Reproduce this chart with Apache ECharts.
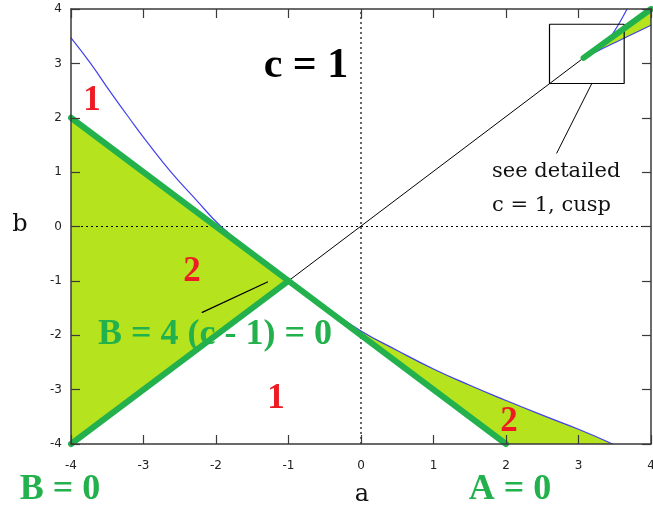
<!DOCTYPE html>
<html>
<head>
<meta charset="utf-8">
<script src="https://cdn.jsdelivr.net/npm/echarts@6/dist/echarts.min.js"></script>
<style>
  html, body { margin: 0; padding: 0; background: #fff; }
  #chart1 { width: 653px; height: 513px; }
</style>
</head>
<body>
<div id="chart1"></div>
<script>
// 刻度
var ticks = [-4, -3, -2, -1, 0, 1, 2, 3, 4];

// 绿色粗线 A = 0 / B = 0
var lineA = [[-4, 2], [-1, -1], [2, -4]];
var lineB = [[-4, -4], [-1, -1]];
// 细黑对角线 + 尖点处的绿线
var diag = [[-1, -1], [3.07, 3.1]];
var cuspGreen = [[3.07, 3.1], [4, 4]];

// 蓝色曲线
var blueCurve = [
    [-4, 3.47], [-3.73, 3], [-3.47, 2.5], [-3.2, 2], [-2.92, 1.5], [-2.62, 1],
    [-2.28, 0.5], [-1.93, 0], [-1.47, -0.5], [-1, -1], [-0.5, -1.47], [0, -1.92],
    [0.5, -2.28], [1, -2.62], [1.5, -2.92], [2, -3.2], [2.5, -3.47], [3, -3.73], [3.47, -4]
];
var cuspUpper = [[3.05, 3.08], [3.3, 3.28], [3.45, 3.5], [3.67, 4]];
var cuspLower = [[3.05, 3.08], [3.3, 3.25], [3.5, 3.38], [4, 3.7]];

// 注释框和引线
var noteBox = [[2.6, 3.72], [3.63, 3.72], [3.63, 2.63], [2.6, 2.63], [2.6, 3.72]];
var noteLine = [[3.18, 2.62], [2.7, 1.35]];
var labelLine = [[-2.19, -1.58], [-1.29, -1.02]];

var green = '#22b14c', lime = '#b5e31d', red = '#ed1c24', blue = '#4040f0';

// 填充区域
var leftFill = [lineA[0], lineA[1], lineB[0]];
var blueRight = blueCurve.slice(9); // 从 (-1,-1) 开始
var lowFill = [lineA[1], lineA[2]].concat(blueRight.slice().reverse());
var cuspFill = cuspGreen.concat([[4, cuspLower[cuspLower.length - 1][1]]]).concat(cuspLower.slice(1).reverse());

function polySeries(points) {
    return {
        type: 'custom',
        silent: true,
        z: 1,
        data: [0],
        renderItem: function (params, api) {
            return {
                type: 'polygon',
                shape: { points: points.map(function (p) { return api.coord(p); }), smooth: 0 },
                style: { fill: lime }
            };
        }
    };
}

function lineSeries(data, color, width, extra) {
    var s = {
        type: 'line',
        data: data,
        symbol: 'none',
        silent: true,
        animation: false,
        lineStyle: { color: color, width: width, cap: 'round' },
        z: 3
    };
    for (var k in extra) s[k] = extra[k];
    return s;
}

var axisCommon = {
    type: 'value',
    min: -4,
    max: 4,
    interval: 1,
    z: 5,
    axisLine: { show: true, onZero: false, lineStyle: { color: '#3a3a3a', width: 1.5 } },
    axisTick: { show: true, inside: true, length: 9, lineStyle: { color: '#3a3a3a', width: 1.2 } },
    splitLine: { show: false }
};

function axis(pos, labels, extra) {
    var a = JSON.parse(JSON.stringify(axisCommon));
    a.position = pos;
    a.axisLabel = labels ? {
        show: true,
        color: '#222',
        fontFamily: 'DejaVu Sans',
        fontSize: 12,
        margin: extra,
        formatter: function (v) { return ticks.indexOf(v) >= 0 ? String(v) : ''; }
    } : { show: false };
    return a;
}

var bigText = function (text, x, y, color, size) {
    return {
        type: 'text', x: x, y: y, z: 20,
        style: {
            text: text, fill: color, align: 'center', verticalAlign: 'middle',
            font: 'bold ' + size + 'px "Liberation Serif"'
        }
    };
};
var serifText = function (text, x, y, size, align) {
    return {
        type: 'text', x: x, y: y, z: 20,
        style: {
            text: text, fill: '#111', align: align || 'center', verticalAlign: 'middle',
            font: size + 'px "DejaVu Serif"'
        }
    };
};

option = {
    animation: false,
    backgroundColor: '#fff',
    grid: { left: 71, right: 2, top: 9, bottom: 69, containLabel: false, outerBoundsMode: 'none' },
    xAxis: [axis('bottom', true, 16), axis('top', false)],
    yAxis: [axis('left', true, 9), axis('right', false)],
    series: [
        polySeries(leftFill),
        polySeries(lowFill),
        polySeries(cuspFill),
        // 零线（点线）
        lineSeries([[0, -4], [0, 4]], '#000', 1, { lineStyle: { color: '#000', width: 1.2, type: [2, 3] }, z: 2 }),
        lineSeries([[-4, 0], [4, 0]], '#000', 1, { lineStyle: { color: '#000', width: 1.2, type: [2, 3] }, z: 2 }),
        lineSeries(blueCurve, blue, 1.2, { smooth: 0.5 }),
        lineSeries(cuspUpper, blue, 1.2, { smooth: 0.4 }),
        lineSeries(cuspLower, blue, 1.2, { smooth: 0.4 }),
        lineSeries(diag, '#000', 1),
        lineSeries(noteBox, '#000', 1.2, { lineStyle: { color: '#000', width: 1.2, cap: 'butt' } }),
        lineSeries(noteLine, '#000', 1),
        lineSeries(labelLine, '#000', 1.2),
        lineSeries(lineA, green, 6, { clip: false, z: 4 }),
        lineSeries(lineB, green, 6, { clip: false, z: 4 }),
        lineSeries(cuspGreen, green, 6, { z: 4 })
    ],
    graphic: [
        bigText('c = 1', 306, 66, '#000', 42),
        bigText('1', 92, 101, red, 35),
        bigText('2', 192, 272, red, 35),
        bigText('1', 276, 399, red, 35),
        bigText('2', 509, 422, red, 35),
        bigText('B = 4 (c - 1) = 0', 215, 335, green, 36),
        bigText('B = 0', 60, 490, green, 36),
        bigText('A = 0', 510, 490, green, 36),
        serifText('see detailed', 492, 172, 21, 'left'),
        serifText('c = 1, cusp', 492, 206, 21, 'left'),
        serifText('b', 20, 225, 24),
        serifText('a', 362, 495, 24)
    ]
};

var myChart = echarts.init(document.getElementById('chart1'));
myChart.setOption(option);
</script>
</body>
</html>
